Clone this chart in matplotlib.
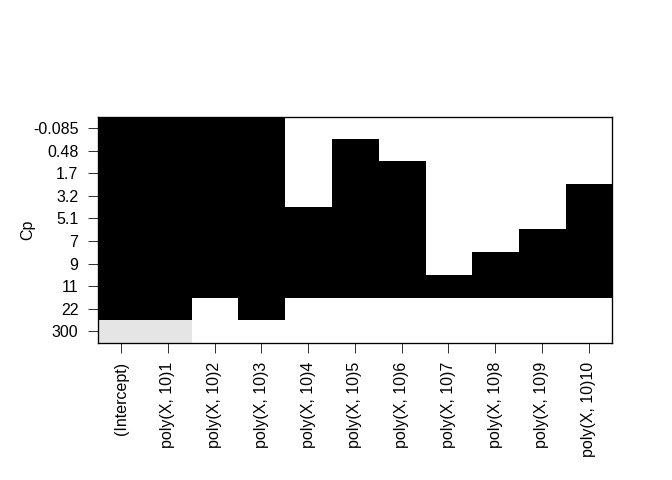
import numpy as np
import matplotlib
matplotlib.use("Agg")
import matplotlib.pyplot as plt

plt.rcParams["font.family"] = ["Liberation Sans", "DejaVu Sans"]

# Cp value of each model (top row = best)
cp_labels = ["-0.085", "0.48", "1.7", "3.2", "5.1", "7", "9", "11", "22", "300"]
cp_values = [-0.085, 0.48, 1.7, 3.2, 5.1, 7, 9, 11, 22, 300]

var_labels = ["(Intercept)"] + ["poly(X, 10)%d" % i for i in range(1, 11)]

# variables (column index) included in each model
included = [
    [0, 1, 2, 3],
    [0, 1, 2, 3, 5],
    [0, 1, 2, 3, 5, 6],
    [0, 1, 2, 3, 5, 6, 10],
    [0, 1, 2, 3, 4, 5, 6, 10],
    [0, 1, 2, 3, 4, 5, 6, 9, 10],
    [0, 1, 2, 3, 4, 5, 6, 8, 9, 10],
    [0, 1, 2, 3, 4, 5, 6, 7, 8, 9, 10],
    [0, 1, 3],
    [0, 1],
]

# shading like leaps: 10 gray levels over the range of Cp
shades = np.linspace(0, 0.9, 10)
cp = np.array(cp_values)
bins = np.floor((cp - cp.min()) / (cp.max() - cp.min()) * 10).astype(int)
bins = np.clip(bins, 0, 9)

nrow, ncol = len(cp_labels), len(var_labels)
img = np.ones((nrow, ncol, 3))
for r, cols in enumerate(included):
    for c in cols:
        img[r, c, :] = shades[bins[r]]

fig = plt.figure(figsize=(7, 5), dpi=96)
ax = fig.add_axes([0.1454, 0.286, 0.7653, 0.471])
ax.imshow(img, aspect="auto", interpolation="nearest",
          extent=(0.5, ncol + 0.5, nrow + 0.5, 0.5))

ax.set_xlim(0.5, ncol + 0.5)
ax.set_ylim(nrow + 0.5, 0.5)
ax.set_xticks(np.arange(1, ncol + 1))
ax.set_xticklabels(var_labels, rotation=90, fontsize=12)
ax.set_yticks(np.arange(1, nrow + 1))
ax.set_yticklabels(cp_labels, fontsize=12)
ax.tick_params(length=7.5, width=0.75, color="#333333", pad=7)
ax.set_ylabel("Cp", fontsize=12)
ax.yaxis.set_label_coords(-0.122, 0.5)
for s in ax.spines.values():
    s.set_linewidth(1)

fig.savefig("out.png", dpi=96)
